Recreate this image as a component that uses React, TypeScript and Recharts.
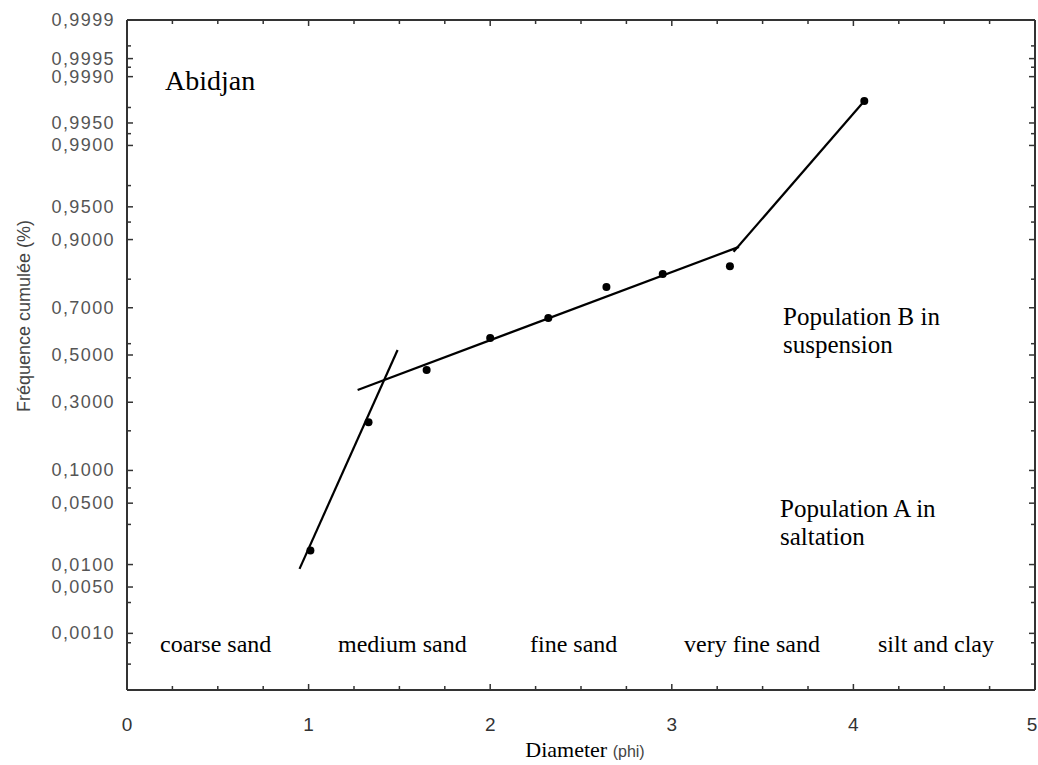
import React from "react";
import { ComposedChart, Line, Scatter, XAxis, YAxis, ReferenceLine } from "recharts";

// sample: diameter (phi) vs cumulative frequency
const diameter = [1.01, 1.33, 1.65, 2.0, 2.32, 2.64, 2.95, 3.32, 4.06];
const cumFreq = [0.015, 0.228, 0.434, 0.575, 0.659, 0.775, 0.816, 0.838, 0.9976];

// fitted segments (end points)
const saltationX = [0.95, 1.49];
const saltationP = [0.0088, 0.522];
const suspensionX = [1.27, 3.37];
const suspensionP = [0.349, 0.885];
const finesX = [3.34, 4.06];
const finesP = [0.874, 0.9976];

const yTickValues = [0.001, 0.005, 0.01, 0.05, 0.1, 0.3, 0.5, 0.7, 0.9, 0.95, 0.99, 0.995, 0.999, 0.9995, 0.9999];
const yTickLabels = ["0,0010", "0,0050", "0,0100", "0,0500", "0,1000", "0,3000", "0,5000", "0,7000", "0,9000", "0,9500", "0,9900", "0,9950", "0,9990", "0,9995", "0,9999"];
const yMinorValues = [0.0003, 0.0007, 0.003, 0.03, 0.07, 0.2, 0.4, 0.55, 0.8, 0.93, 0.97, 0.993, 0.997, 0.9993, 0.9997];
const xTicks = [0, 1, 2, 3, 4, 5];
const xMinorTicks = [0.25, 0.5, 0.75, 1.25, 1.5, 1.75, 2.25, 2.5, 2.75, 3.25, 3.5, 3.75, 4.25, 4.5, 4.75];
const bandLabels = ["coarse sand", "medium sand", "fine sand", "very fine sand", "silt and clay"];
const bandLabelX = [160, 338, 530, 684, 878];

// inverse normal cdf (Acklam) for the probability axis
function probit(p: number): number {
  const a = [-39.69683028665376, 220.9460984245205, -275.9285104469687, 138.357751867269, -30.66479806614716, 2.506628277459239];
  const b = [-54.47609879822406, 161.5858368580409, -155.6989798598866, 66.80131188771972, -13.28068155288572];
  const c = [-0.007784894002430293, -0.3223964580411365, -2.400758277161838, -2.549732539343734, 4.374664141464968, 2.938163982698783];
  const d = [0.007784695709041462, 0.3224671290700398, 2.445134137142996, 3.754408661907416];
  const plow = 0.02425;
  if (p < plow) {
    const q = Math.sqrt(-2 * Math.log(p));
    return (((((c[0] * q + c[1]) * q + c[2]) * q + c[3]) * q + c[4]) * q + c[5]) / ((((d[0] * q + d[1]) * q + d[2]) * q + d[3]) * q + 1);
  }
  if (p > 1 - plow) {
    const q = Math.sqrt(-2 * Math.log(1 - p));
    return -(((((c[0] * q + c[1]) * q + c[2]) * q + c[3]) * q + c[4]) * q + c[5]) / ((((d[0] * q + d[1]) * q + d[2]) * q + d[3]) * q + 1);
  }
  const q = p - 0.5;
  const r = q * q;
  return ((((((a[0] * r + a[1]) * r + a[2]) * r + a[3]) * r + a[4]) * r + a[5]) * q) / (((((b[0] * r + b[1]) * r + b[2]) * r + b[3]) * r + b[4]) * r + 1);
}

const points = diameter.map((x, i) => ({ x, z: probit(cumFreq[i]) }));
const seg = (xs: number[], ps: number[]) => xs.map((x, i) => ({ x, z: probit(ps[i]) }));
const saltation = seg(saltationX, saltationP);
const suspension = seg(suspensionX, suspensionP);
const fines = seg(finesX, finesP);

const yDomain = [probit(0.0001), probit(0.9999)];
const majorLabel = new Map(yTickValues.map((p, i) => [probit(p).toFixed(5), yTickLabels[i]]));
const yTicks = [...yTickValues, ...yMinorValues].map(probit).sort((a, b) => a - b);
const xAllTicks = [...xTicks, ...xMinorTicks].sort((a, b) => a - b);

const AXIS = "#333";
const PLOT_TOP = 20; // = chart margin.top

const YTick = ({ x, y, payload, side }: any) => {
  const label = majorLabel.get(Number(payload.value).toFixed(5));
  const len = label !== undefined ? 6 : 4;
  const dir = side === "left" ? 1 : -1;
  return (
    <g>
      <line x1={x} x2={x + dir * len} y1={y} y2={y} stroke={AXIS} strokeWidth={1.5} />
      {side === "left" && label !== undefined && (
        <text x={x - 12} y={y} dy={6} textAnchor="end" fontSize={18} letterSpacing={1.4} fill="#555" fontFamily="'Liberation Sans', Arial, sans-serif">
          {label}
        </text>
      )}
    </g>
  );
};

// bottom ticks, mirrored on the top frame edge
const XTick = ({ x, y, payload }: any) => {
  const v = Number(payload.value);
  const major = Number.isInteger(v);
  const len = major ? 6 : 4;
  return (
    <g>
      <line x1={x} x2={x} y1={y} y2={y - len} stroke={AXIS} strokeWidth={1.5} />
      <line x1={x} x2={x} y1={PLOT_TOP} y2={PLOT_TOP + len} stroke={AXIS} strokeWidth={1.5} />
      {major && (
        <text x={Math.min(x, 1032)} y={y} dy={41} textAnchor="middle" fontSize={19} fill="#333" fontFamily="'Liberation Sans Narrow', 'Liberation Sans', Arial, sans-serif">
          {v}
        </text>
      )}
    </g>
  );
};

const serif = "'Liberation Serif', 'Times New Roman', serif";

export default function App() {
  return (
    <div style={{ position: "relative", width: 1038, height: 765 }}>
      <style>{"body{margin:0;overflow:hidden}"}</style>
      <ComposedChart width={1038} height={765} margin={{ top: PLOT_TOP, right: 0, bottom: 35, left: 0 }}>
        <XAxis
          dataKey="x"
          type="number"
          domain={[0, 5]}
          allowDataOverflow
          ticks={xAllTicks}
          interval={0}
          height={40}
          tickSize={0}
          tickMargin={0}
          tickLine={false}
          axisLine={{ stroke: AXIS, strokeWidth: 2 }}
          tick={(p: any) => <XTick {...p} />}
        />
        <YAxis
          dataKey="z"
          type="number"
          domain={yDomain}
          allowDataOverflow
          ticks={yTicks}
          interval={0}
          width={127}
          tickSize={0}
          tickMargin={0}
          tickLine={false}
          axisLine={{ stroke: AXIS, strokeWidth: 2 }}
          tick={(p: any) => <YTick {...p} side="left" />}
        />
        <YAxis
          yAxisId="right"
          orientation="right"
          dataKey="z"
          type="number"
          domain={yDomain}
          allowDataOverflow
          ticks={yTicks}
          interval={0}
          width={3}
          tickSize={0}
          tickMargin={0}
          tickLine={false}
          axisLine={{ stroke: AXIS, strokeWidth: 2 }}
          tick={(p: any) => <YTick {...p} side="right" />}
        />
        <ReferenceLine y={yDomain[1]} stroke={AXIS} strokeWidth={2} />
        <ReferenceLine x={5} stroke={AXIS} strokeWidth={2} />
        <Line data={saltation} dataKey="z" stroke="#000" strokeWidth={2.2} dot={false} isAnimationActive={false} />
        <Line data={suspension} dataKey="z" stroke="#000" strokeWidth={2.2} dot={false} isAnimationActive={false} />
        <Line data={fines} dataKey="z" yAxisId="right" stroke="#000" strokeWidth={2.2} dot={false} isAnimationActive={false} />
        <Scatter
          data={points}
          dataKey="z"
          isAnimationActive={false}
          shape={(p: any) => <circle cx={p.cx} cy={p.cy} r={4} fill="#000" />}
        />
      </ComposedChart>
      <svg width={1038} height={765} style={{ position: "absolute", left: 0, top: 0, pointerEvents: "none" }}>
        <text x={165} y={90} fontSize={28} fontFamily={serif} fill="#000">Abidjan</text>
        <text x={783} y={325} fontSize={25} fontFamily={serif} fill="#000">Population B in</text>
        <text x={783} y={353} fontSize={25} fontFamily={serif} fill="#000">suspension</text>
        <text x={780} y={517} fontSize={25} fontFamily={serif} fill="#000">Population A in</text>
        <text x={780} y={545} fontSize={25} fontFamily={serif} fill="#000">saltation</text>
        {bandLabels.map((t, i) => (
          <text key={t} x={bandLabelX[i]} y={652} fontSize={24} fontFamily={serif} fill="#000">{t}</text>
        ))}
        <text x={585} y={757} textAnchor="middle" fill="#000">
          <tspan fontSize={22} fontFamily={serif}>Diameter </tspan>
          <tspan fontSize={16} fontFamily="'Liberation Sans', Arial, sans-serif" fill="#444">(phi)</tspan>
        </text>
        <text
          x={24}
          y={316}
          transform="rotate(-90 24 316)"
          textAnchor="middle"
          dy={6}
          fontSize={18}
          fill="#444"
          fontFamily="'Liberation Sans', Arial, sans-serif"
        >
          Fréquence cumulée (%)
        </text>
      </svg>
    </div>
  );
}
